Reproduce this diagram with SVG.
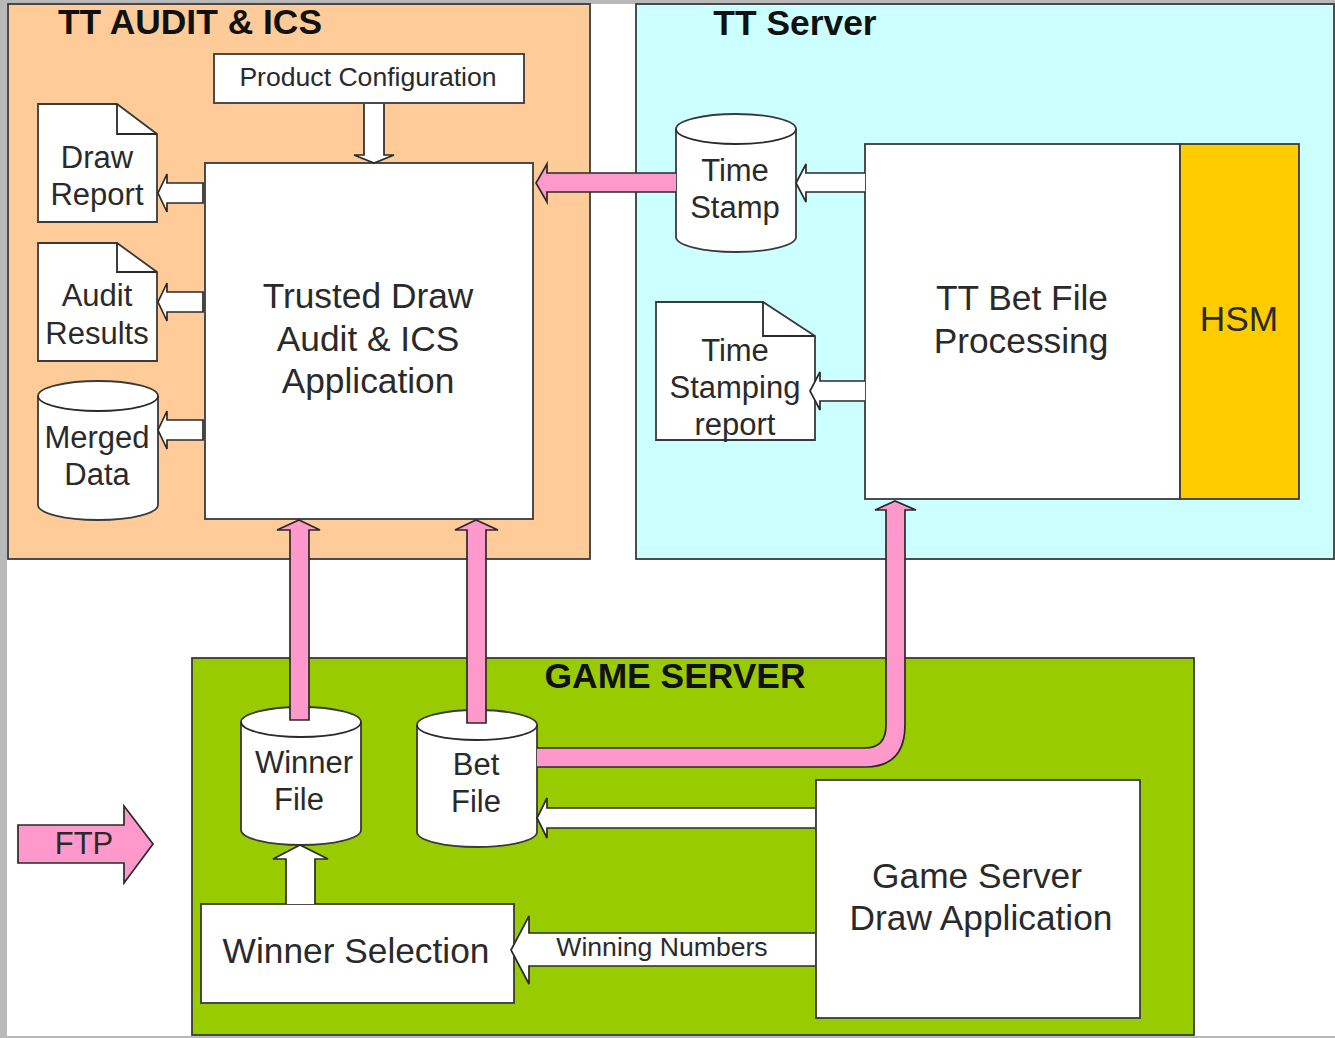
<svg xmlns="http://www.w3.org/2000/svg" width="1335" height="1038" viewBox="0 0 1335 1038">
<defs><style>
text{font-family:"Liberation Sans",Arial,sans-serif;fill:#2a2a2a;text-anchor:middle;font-size:31px}
.t{font-weight:bold;font-size:35.4px;fill:#111}
.l{font-size:35.3px}
.s{font-size:26.6px}
.b{fill:#fff;stroke:#3a3a3a;stroke-width:1.8}
.a{fill:#fff;stroke:#2a2a2a;stroke-width:1.7}
.p{fill:#ff99cc;stroke:#2a2a2a;stroke-width:1.7}
.c{fill:none;stroke:#2a2a2a;stroke-width:1.8}
</style></defs>
<rect width="1335" height="1038" fill="#fff"/>
<rect x="0" y="0" width="7" height="1038" fill="#b9b9b9"/>
<rect x="0" y="1036" width="1335" height="2" fill="#b9b9b9"/>
<rect x="0" y="0" width="1335" height="4" fill="#b9b9b9"/>
<g id="audit-panel"><rect x="8" y="4" width="582" height="555" fill="#ffcc99" stroke="#3a3a3a" stroke-width="1.8"/><text class="t" x="190" y="34">TT AUDIT &amp; ICS</text></g>
<g id="server-panel"><rect x="636" y="4" width="698" height="555" fill="#ccffff" stroke="#3a3a3a" stroke-width="1.8"/><text class="t" x="795" y="35">TT Server</text></g>
<g id="game-panel"><rect x="192" y="658" width="1002" height="377" fill="#99cc00" stroke="#3a3a3a" stroke-width="1.8"/><text class="t" x="675" y="688">GAME SERVER</text></g>

<g id="product-config"><rect class="b" x="214" y="54" width="310" height="49"/><text class="s" x="368" y="86">Product Configuration</text></g>
<g id="draw-report"><path class="b" d="M38 104H117L157 134V222H38Z"/><path class="c" d="M117 104V134H157"/><text x="97" y="168">Draw</text><text x="97" y="205">Report</text></g>
<g id="audit-results"><path class="b" d="M38 243H117L157 272V361H38Z"/><path class="c" d="M117 243V272H157"/><text x="97" y="306">Audit</text><text x="97" y="344">Results</text></g>
<g id="merged-data"><path class="b" d="M38 396A60 15 0 0 1 158 396V505A60 15 0 0 1 38 505Z"/><path class="c" d="M38 396A60 15 0 0 0 158 396"/><text x="97" y="448">Merged</text><text x="97" y="485">Data</text></g>
<g id="audit-app"><rect class="b" x="205" y="163" width="328" height="356"/><text class="l" x="368" y="308">Trusted Draw</text><text class="l" x="368" y="351">Audit &amp; ICS</text><text class="l" x="368" y="393">Application</text></g>
<g id="time-stamp"><path class="b" d="M676 129A60 15 0 0 1 796 129V237A60 15 0 0 1 676 237Z"/><path class="c" d="M676 129A60 15 0 0 0 796 129"/><text x="735" y="181">Time</text><text x="735" y="218">Stamp</text></g>
<g id="time-report"><path class="b" d="M656 302H763L815 336V440H656Z"/><path class="c" d="M763 302V336H815"/><text x="735" y="361">Time</text><text x="735" y="398">Stamping</text><text x="735" y="435">report</text></g>
<g id="bet-processing"><rect class="b" x="865" y="144" width="315" height="355"/><text class="l" x="1022" y="310">TT Bet File</text><text class="l" x="1021" y="353">Processing</text></g>
<g id="hsm"><rect x="1180" y="144" width="119" height="355" fill="#ffcc00" stroke="#3a3a3a" stroke-width="1.8"/><text class="l" x="1239" y="331">HSM</text></g>
<g id="winner-file"><path class="b" d="M241 722A60 15 0 0 1 361 722V830A60 15 0 0 1 241 830Z"/><path class="c" d="M241 722A60 15 0 0 0 361 722"/><text x="304" y="773">Winner</text><text x="299" y="810">File</text></g>
<g id="bet-file"><path class="b" d="M417 725A60 15 0 0 1 537 725V832A60 15 0 0 1 417 832Z"/><path class="c" d="M417 725A60 15 0 0 0 537 725"/><text x="476" y="775">Bet</text><text x="476" y="812">File</text></g>
<g id="winner-selection"><rect class="b" x="201" y="904" width="313" height="99"/><text class="l" x="356" y="963">Winner Selection</text></g>
<g id="game-app"><rect class="b" x="816" y="780" width="324" height="238"/><text class="l" x="977" y="888">Game Server</text><text class="l" x="981" y="930">Draw Application</text></g>
<g id="ftp"><path class="p" d="M18 825H124V806L153 844L124 883V863H18Z"/><text x="84" y="854">FTP</text></g>

<g id="connectors">
<path class="a" d="M364 104V155H354L374 163L394 155H384V104"/>
<path class="a" d="M203 183H167V174L158 193L167 212V203H203Z"/>
<path class="a" d="M203 292H167V283L158 302L167 321V312H203Z"/>
<path class="a" d="M203 420H167V411L158 430L167 449V440H203Z"/>
<path class="p" d="M676 173H547V164L536 183L547 202V192H676"/>
<path class="a" d="M865 173H806V164L796 183L806 202V192H865"/>
<path class="a" d="M865 381H820V372L810 391L820 410V401H865"/>
<path class="p" d="M290 720V530H277L299 520L320 530H309V720Z"/>
<path class="p" d="M467 723V530H455L476 520L498 530H486V723Z"/>
<path class="p" d="M537 748H865Q886 748 886 725V510H875L895 501L916 510H905V725Q905 767 865 767H537"/>
<path class="a" d="M815 808H547V798L537 818L547 838V828H815"/>
<path class="a" d="M815 933H529V916L511 950L529 984V966H815"/>
<path class="a" d="M286 904V859H273L300 845L328 859H315V904"/>
<text class="s" x="662" y="956">Winning Numbers</text>
</g>
</svg>
